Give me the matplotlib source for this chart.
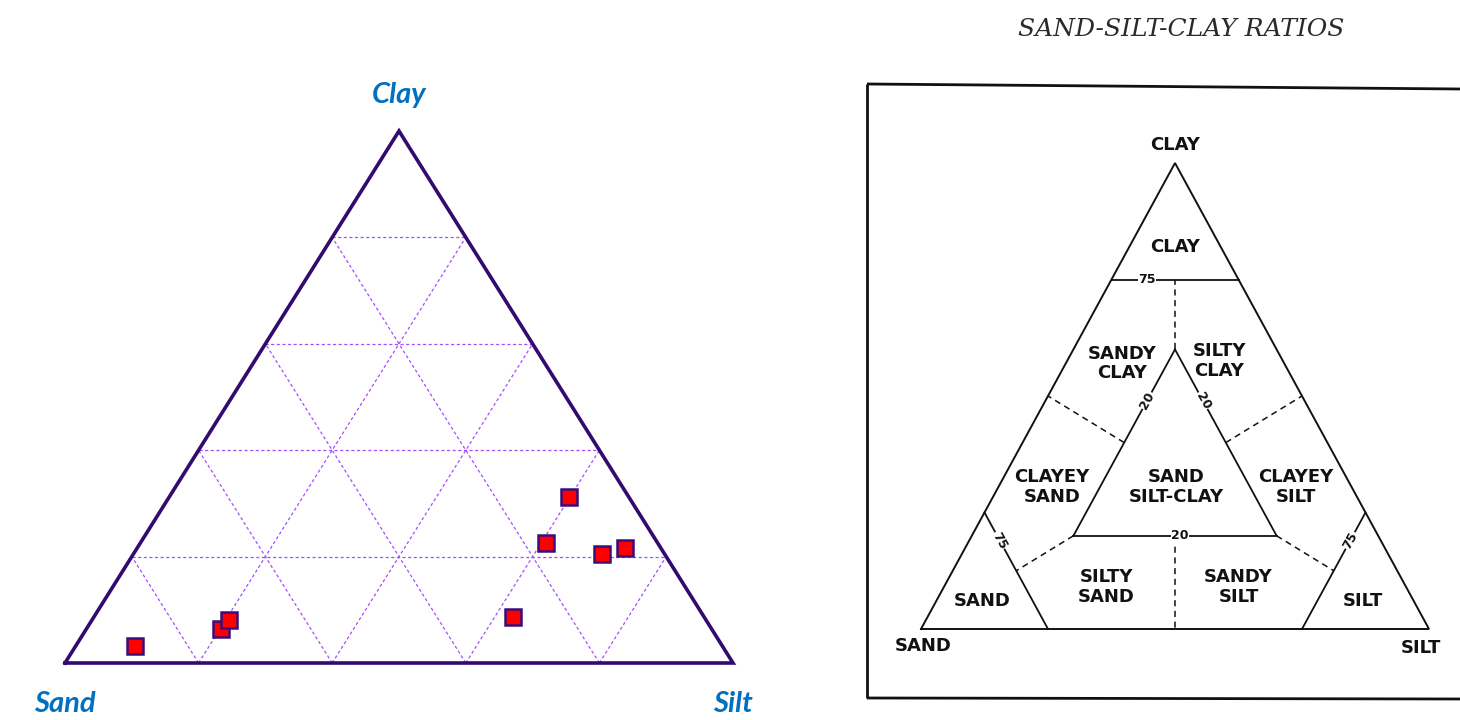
import matplotlib
matplotlib.use("Agg")
import matplotlib.pyplot as plt
import numpy as np
from matplotlib.lines import Line2D

# ---------------- data ----------------
# sample compositions (fractions): sand, silt, clay
sample_sand = [0.879, 0.735, 0.714, 0.287, 0.167, 0.090, 0.094, 0.054]
sample_silt = [0.089, 0.201, 0.205, 0.627, 0.607, 0.598, 0.701, 0.730]
sample_clay = [0.032, 0.064, 0.081, 0.086, 0.226, 0.312, 0.205, 0.216]

vertex_labels = ["Sand", "Silt", "Clay"]
grid_levels = [0.2, 0.4, 0.6, 0.8]

# Shepard (1954) classification
shep_title = "SAND-SILT-CLAY RATIOS"
shep_vertex_labels = ["SAND", "SILT", "CLAY"]
# boundaries as (sand, silt, clay) percentage pairs
shep_solid = [
    [(25, 0, 75), (0, 25, 75)],
    [(75, 0, 25), (75, 25, 0)],
    [(0, 75, 25), (25, 75, 0)],
    [(60, 20, 20), (20, 60, 20)],
    [(20, 60, 20), (20, 20, 60)],
    [(20, 20, 60), (60, 20, 20)],
]
shep_dashed = [
    [(20, 20, 60), (12.5, 12.5, 75)],
    [(60, 20, 20), (75, 12.5, 12.5)],
    [(20, 60, 20), (12.5, 75, 12.5)],
    [(40, 40, 20), (50, 50, 0)],
    [(40, 20, 40), (50, 0, 50)],
    [(20, 40, 40), (0, 50, 50)],
]
shep_classes = ["CLAY", "SANDY\nCLAY", "SILTY\nCLAY", "CLAYEY\nSAND", "SAND\nSILT-CLAY",
                "CLAYEY\nSILT", "SAND", "SILTY\nSAND", "SANDY\nSILT", "SILT"]
shep_class_pos = [(9, 9, 82), (32, 11, 57), (12.5, 30, 57.5), (59, 10.5, 30.5), (34.5, 35, 30.5),
                  (11, 58.5, 30.5), (85, 9, 6), (59, 32, 9), (33, 58, 9), (10, 84, 6)]


def tern(sand, silt, clay):
    s = np.asarray(sand, float) + np.asarray(silt, float) + np.asarray(clay, float)
    silt = np.asarray(silt, float) / s
    clay = np.asarray(clay, float) / s
    return silt + clay / 2.0, clay


W, H = 1460, 720
fig = plt.figure(figsize=(W / 100, H / 100), dpi=100)
fig.patch.set_facecolor("white")


def fpos(x0, y0, x1, y1):
    return [x0 / W, 1 - y1 / H, (x1 - x0) / W, (y1 - y0) / H]


# ---------------- left ternary plot ----------------
axL = fig.add_axes(fpos(65, 131, 733, 663))
axL.set_xlim(0, 1)
axL.set_ylim(0, 1)
axL.axis("off")

gcol = "#a64dff"
for g in grid_levels:
    # clay = g (horizontal)
    x, y = tern([1 - g, 0], [0, 1 - g], [g, g])
    axL.plot(x, y, color=gcol, lw=0.9, ls=(0, (2.5, 2)), zorder=1)
    # sand = g
    x, y = tern([g, g], [1 - g, 0], [0, 1 - g])
    axL.plot(x, y, color=gcol, lw=0.9, ls=(0, (2.5, 2)), zorder=1)
    # silt = g
    x, y = tern([1 - g, 0], [g, g], [0, 1 - g])
    axL.plot(x, y, color=gcol, lw=0.9, ls=(0, (2.5, 2)), zorder=1)

x, y = tern([1, 0, 0, 1], [0, 1, 0, 0], [0, 0, 1, 0])
axL.plot(x, y, color="#330a6e", lw=2.6, solid_joinstyle="miter", zorder=2, clip_on=False)

x, y = tern(sample_sand, sample_silt, sample_clay)
axL.plot(x, y, ls="none", marker="s", ms=11.5, mfc="#ff0000", mec="#3a0d7a", mew=1.8,
         zorder=3, clip_on=False)

lab_kw = dict(color="#0070c0", fontsize=21, fontweight="bold", fontstyle="italic",
              family=["Lato", "Open Sans", "DejaVu Sans"], ha="center", va="center")
axL.text(0.0, -0.078, vertex_labels[0], transform=axL.transAxes, **lab_kw)
axL.text(1.0, -0.078, vertex_labels[1], transform=axL.transAxes, **lab_kw)
axL.text(0.5, 1.068, vertex_labels[2], transform=axL.transAxes, **lab_kw)

# ---------------- right: Shepard diagram ----------------
axR = fig.add_axes(fpos(921, 163, 1429, 629))
axR.set_xlim(0, 1)
axR.set_ylim(0, 1)
axR.axis("off")

k = "#111111"
x, y = tern([1, 0, 0, 1], [0, 1, 0, 0], [0, 0, 1, 0])
axR.plot(x, y, color=k, lw=1.4, solid_joinstyle="miter", clip_on=False)
for a, b in shep_solid:
    x, y = tern([a[0], b[0]], [a[1], b[1]], [a[2], b[2]])
    axR.plot(x, y, color=k, lw=1.3, clip_on=False)
for a, b in shep_dashed:
    x, y = tern([a[0], b[0]], [a[1], b[1]], [a[2], b[2]])
    axR.plot(x, y, color=k, lw=1.1, ls=(0, (4, 3)), clip_on=False)

sk = dict(color=k, fontsize=13, fontweight="bold", family="DejaVu Sans",
          ha="center", va="center", linespacing=1.1)
for lab, p in zip(shep_classes, shep_class_pos):
    x, y = tern(*p)
    axR.text(x, y, lab, **sk)

vk = dict(ha="center", va="center", color=k, fontsize=13, fontweight="bold", family="DejaVu Sans")
axR.text(0.005, -0.036, shep_vertex_labels[0], transform=axR.transAxes, **vk)
axR.text(0.985, -0.040, shep_vertex_labels[1], transform=axR.transAxes, **vk)
axR.text(0.5, 1.038, shep_vertex_labels[2], transform=axR.transAxes, **vk)

# line value labels
nk = dict(color=k, fontsize=9, fontweight="bold", family="DejaVu Sans", ha="center", va="center",
          bbox=dict(boxstyle="square,pad=0.05", fc="white", ec="none"))
x, y = tern(18, 7, 75)
axR.text(x, y, "75", **nk)
x, y = tern(39, 41, 20)
axR.text(x, y, "20", **nk)
x, y = tern(31, 20, 49)
axR.text(x, y, "20", rotation=61, **nk)
x, y = tern(20, 31, 49)
axR.text(x, y, "20", rotation=-61, **nk)
x, y = tern(75, 6, 19)
axR.text(x, y, "75", rotation=-61, **nk)
x, y = tern(6, 75, 19)
axR.text(x, y, "75", rotation=61, **nk)

# frame around the figure
bk = dict(color="#111111", lw=2.0, transform=fig.transFigure, solid_capstyle="butt")
fig.add_artist(Line2D([867 / W, 1.0], [1 - 84 / H, 1 - 89 / H], **bk))
fig.add_artist(Line2D([867 / W, 867 / W], [1 - 84 / H, 1 - 698 / H], **bk))
fig.add_artist(Line2D([867 / W, 1.0], [1 - 698 / H, 1 - 699 / H], **bk))

fig.text(1181 / W, 1 - 30 / H, shep_title, ha="center", va="center", fontsize=18,
         fontstyle="italic", family="DejaVu Serif", color="#2a2a2a")

fig.savefig("out.png", dpi=100, facecolor="white")
